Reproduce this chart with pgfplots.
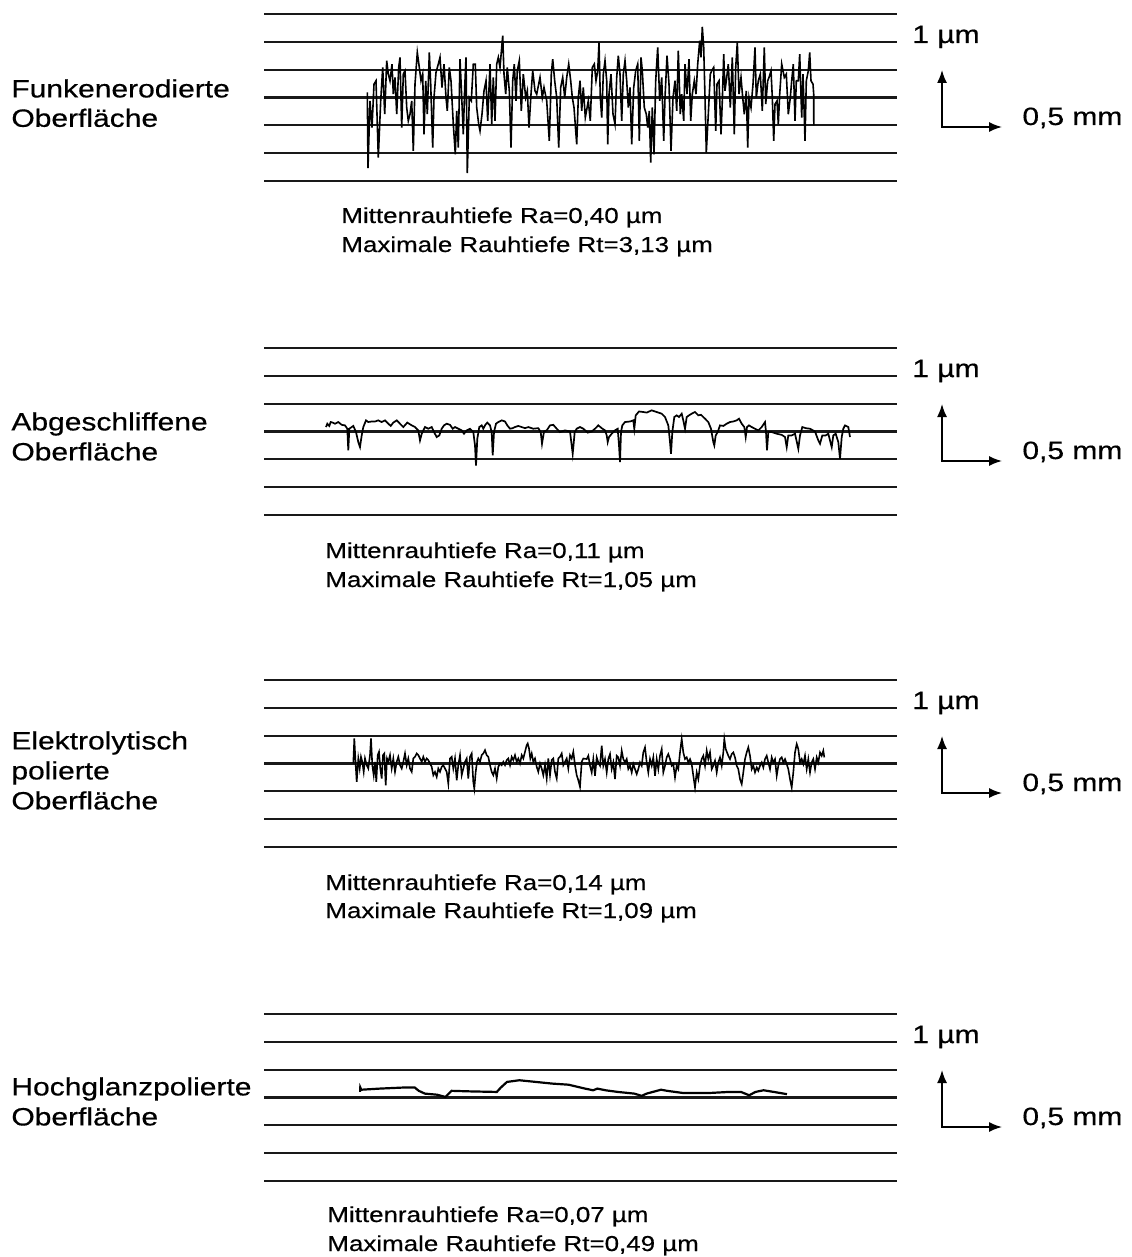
\documentclass[border=0pt]{standalone}
\usepackage{pgfplots}
\pgfplotsset{compat=1.18}
\usepackage{fontspec}
\setmainfont{Liberation Sans}[FakeStretch=1.2, FakeBold=0.5]
\usetikzlibrary{arrows.meta}
\pgfplotsset{profile/.style={
  scale only axis, width=316.5pt, height=83.5pt,
  xmin=0, xmax=633, ymin=-1.5, ymax=1.5,
  axis line style={draw=none},
  xtick=\empty, ytick={-1.5,-1,-0.5,0,0.5,1,1.5}, yticklabels={},
  major tick length=0pt, ymajorgrids,
  grid style={black!90, line width=1.1pt},
  anchor=north west, clip=false}}
\newcommand\lab{\fontsize{12.5}{14}\selectfont}
\newcommand\sml{\fontsize{10.8}{14}\selectfont}
\begin{document}
\begin{tikzpicture}
\path[use as bounding box] (0,0) rectangle (565.5pt,-628.5pt);
% ---------------- Panel 1
\begin{axis}[profile, at={(132pt,-7pt)}]
\addplot[black, line width=0.8pt] table {
x y
103.3 0.09
104.0 -1.27
106.0 -0.06
108.0 -0.54
110.0 0.24
112.0 0.30
114.3 -1.08
116.7 -0.06
118.7 0.54
120.7 -0.30
122.7 0.66
124.3 0.42
126.0 0.30
128.0 0.60
129.3 0.06
131.0 0.36
132.7 -0.30
134.7 0.54
136.0 0.72
137.7 -0.54
139.3 0.42
141.0 0.48
142.7 -0.18
144.3 -0.42
146.0 -0.30
147.7 -0.06
149.3 -0.96
151.0 0.24
153.3 0.81
155.3 0.54
157.0 0.30
158.7 0.42
160.0 -0.66
161.7 0.30
163.3 -0.30
165.3 0.81
166.7 0.24
168.7 -0.90
170.0 0.00
172.0 0.45
174.3 0.60
176.0 0.72
178.0 0.18
180.0 0.60
182.0 0.00
183.3 -0.24
185.3 0.54
187.0 0.30
189.3 -0.48
191.3 -1.02
192.7 -0.24
194.3 -0.90
196.0 0.69
197.3 0.18
199.3 -0.66
200.7 0.18
202.0 0.72
203.3 -1.36
205.3 0.00
207.3 -0.06
209.3 0.60
211.3 0.60
212.7 -0.18
214.7 -0.48
216.0 -0.60
218.0 -0.30
220.0 0.12
222.0 0.30
223.7 -0.42
226.0 0.60
227.7 -0.48
229.3 0.36
231.0 -0.42
232.7 0.60
234.3 0.72
236.0 0.54
238.7 1.11
240.0 0.42
241.7 0.06
243.3 0.54
245.3 0.12
247.0 -0.90
248.7 0.30
250.3 0.60
252.0 -0.06
253.3 0.48
255.3 0.66
257.3 -0.24
259.3 0.42
261.7 0.00
263.3 0.12
265.0 -0.54
267.0 0.06
268.7 0.48
271.0 0.12
272.7 0.06
276.0 0.36
278.3 0.00
280.0 0.18
282.7 -0.06
285.3 -0.78
287.3 0.42
288.7 0.69
290.7 0.30
292.7 0.00
294.7 -0.90
296.7 0.18
298.7 0.36
300.7 0.00
302.7 0.36
304.7 0.60
306.7 0.30
308.3 0.00
310.0 -0.18
312.7 -0.84
314.3 0.00
316.0 0.30
317.7 -0.24
319.3 0.18
321.3 -0.36
324.3 -0.06
326.3 -0.42
328.3 0.54
330.3 0.60
332.0 0.30
333.7 0.48
335.0 0.99
336.3 0.00
337.7 -0.36
339.3 0.42
341.0 0.66
342.7 0.30
343.7 -0.84
345.0 0.06
347.0 0.42
349.0 -0.30
351.0 -0.48
352.7 0.36
354.3 0.75
356.0 0.42
357.7 -0.42
359.3 0.42
361.0 0.66
362.7 0.30
364.3 -0.18
366.0 0.18
367.7 -0.84
369.7 0.18
371.7 0.48
373.7 0.60
375.3 -0.78
377.0 0.72
378.3 0.48
380.3 -0.18
382.3 -0.30
383.7 -0.54
385.3 -0.24
386.7 -1.17
388.3 -0.18
390.0 -1.02
391.7 0.30
393.7 0.90
395.7 -0.06
397.7 0.36
399.7 -0.78
401.0 0.00
403.0 0.75
405.0 0.24
407.0 -0.96
409.0 0.00
411.0 0.30
412.7 -0.24
414.3 0.84
416.3 -0.30
417.7 0.06
419.7 -0.42
421.0 0.60
423.0 0.06
425.0 0.69
426.7 -0.42
428.3 0.06
430.3 0.30
432.0 0.06
433.7 0.60
435.7 1.02
437.0 0.72
438.3 1.27
439.7 0.90
441.0 0.00
442.3 -0.99
444.3 -0.30
446.3 0.42
447.7 0.48
449.7 0.54
451.7 -0.60
453.0 0.24
455.0 0.30
457.0 -0.66
458.3 -0.06
459.7 0.78
461.0 0.12
462.7 0.36
464.3 0.60
466.3 -0.18
468.3 0.72
470.3 -0.66
471.7 0.54
473.3 0.99
475.0 0.06
477.0 0.36
478.7 0.00
480.3 -0.30
482.3 0.12
483.7 -0.90
485.0 0.00
487.0 -0.18
489.0 0.24
491.0 0.90
492.3 0.00
494.3 0.30
496.3 0.42
498.3 -0.24
500.3 0.90
501.7 -0.12
503.7 0.30
505.0 0.36
507.0 0.48
508.3 0.00
509.7 -0.78
511.0 -0.12
513.0 -0.06
514.3 -0.48
515.7 0.06
517.7 0.60
519.0 0.48
520.3 0.36
522.3 0.42
524.3 -0.30
526.3 0.00
527.7 0.30
529.3 0.60
531.0 -0.42
532.3 0.30
534.3 0.30
535.7 0.78
537.7 -0.36
539.0 0.42
541.0 -0.78
542.3 0.30
544.3 0.48
545.7 0.81
547.0 0.30
549.0 0.24
549.7 0.06
549.8 -0.50
};
\end{axis}
% ---------------- Panel 2
\begin{axis}[profile, at={(132pt,-174pt)}]
\addplot[black, line width=0.85pt] table {
x y
62.0 0.08
63.3 0.14
65.3 0.10
66.7 0.17
68.7 0.16
71.0 0.14
74.3 0.17
77.7 0.12
81.0 0.11
83.3 0.05
84.3 -0.34
85.3 0.05
87.7 0.08
89.3 0.10
92.0 -0.01
94.3 -0.19
96.0 -0.28
97.7 -0.07
99.3 0.08
102.0 0.20
104.3 0.17
107.7 0.18
111.0 0.18
114.3 0.20
117.7 0.17
121.0 0.20
124.3 0.14
126.7 0.10
129.3 0.16
132.7 0.20
136.0 0.14
139.3 0.08
143.3 0.16
147.7 0.11
151.0 0.08
154.3 0.02
156.0 -0.16
157.7 -0.04
161.0 0.08
164.3 0.05
167.7 0.08
170.0 -0.01
172.7 -0.10
175.3 -0.07
177.7 0.05
180.0 0.11
182.7 0.14
186.0 0.12
188.7 0.05
191.0 0.08
194.3 0.05
197.7 0.02
200.0 -0.04
202.7 0.02
206.0 0.05
209.3 -0.01
211.0 -0.25
212.0 -0.61
213.3 -0.13
215.3 0.08
217.7 0.11
219.3 0.05
221.3 0.12
223.3 0.16
226.0 0.11
227.7 -0.01
228.7 -0.43
230.0 -0.01
232.0 0.14
234.3 0.17
237.7 0.20
241.0 0.18
243.3 0.11
246.0 0.05
248.7 0.06
251.0 0.08
254.3 0.10
257.7 0.08
261.0 0.06
264.3 0.08
269.3 0.05
274.3 0.06
276.7 -0.01
278.0 -0.22
280.0 0.00
282.7 0.02
286.0 0.11
289.3 0.12
292.7 0.05
296.0 -0.01
301.0 0.02
306.0 0.00
308.7 -0.40
310.7 -0.01
312.7 0.05
316.0 0.08
319.3 0.05
323.7 -0.02
327.7 0.00
331.0 0.05
334.3 0.11
337.7 0.06
341.0 0.02
342.7 -0.07
343.7 -0.19
345.0 -0.10
347.7 -0.04
351.0 0.02
353.7 0.05
355.0 -0.25
356.0 -0.55
357.0 -0.01
358.3 0.11
361.0 0.17
366.0 0.18
369.3 0.20
370.3 0.05
371.7 0.29
375.0 0.36
379.3 0.35
382.7 0.34
387.7 0.38
392.7 0.35
397.7 0.32
401.0 0.26
404.3 0.11
406.0 -0.19
407.0 -0.40
408.3 -0.01
410.3 0.26
412.7 0.29
415.0 0.26
417.7 0.32
419.3 0.20
421.0 0.05
422.7 0.26
425.0 0.29
427.7 0.32
431.0 0.35
434.3 0.29
437.0 0.30
441.0 0.23
444.3 0.17
447.0 0.05
449.3 -0.19
450.3 -0.25
451.7 -0.07
453.7 -0.01
456.0 0.11
459.3 0.10
462.7 0.14
466.0 0.17
469.3 0.18
472.7 0.20
475.0 0.23
477.7 0.14
480.3 0.08
481.7 -0.10
483.0 0.08
485.0 0.11
487.7 0.08
491.0 0.05
494.3 0.02
497.7 0.08
501.0 0.17
502.0 -0.01
503.0 -0.34
504.3 -0.01
507.7 -0.01
512.7 -0.04
517.7 -0.06
521.0 -0.10
522.7 -0.28
524.3 -0.07
527.7 -0.07
531.0 -0.04
534.3 -0.31
536.0 -0.07
538.3 0.08
541.7 0.06
546.0 0.05
551.0 0.00
554.3 -0.16
556.0 -0.22
558.3 -0.07
561.7 -0.07
564.3 -0.04
567.7 -0.28
569.3 -0.07
571.7 -0.04
574.3 -0.19
576.0 -0.49
577.7 -0.10
579.3 0.05
581.0 0.11
584.3 0.08
586.0 -0.10
};
\end{axis}
% ---------------- Panel 3
\begin{axis}[profile, at={(132pt,-340pt)}]
\addplot[black, line width=0.8pt] table {
x y
89.3 0.00
90.3 0.45
91.7 -0.03
92.7 -0.33
94.3 0.09
95.7 -0.09
97.0 0.12
98.3 0.03
99.7 -0.15
101.0 0.09
102.7 -0.03
104.3 -0.09
106.0 0.15
107.0 0.45
108.3 -0.03
109.7 -0.21
111.0 0.03
112.3 -0.33
113.7 0.15
115.0 0.21
116.3 -0.09
117.7 -0.27
119.0 0.15
120.3 0.18
121.7 -0.39
123.0 0.09
124.3 0.03
126.0 0.15
127.7 -0.09
129.3 0.09
131.0 -0.15
132.7 0.03
134.3 0.12
136.0 -0.03
137.7 -0.09
139.3 0.03
141.0 0.18
142.7 -0.03
144.3 0.09
146.0 -0.09
147.7 -0.15
149.3 0.09
151.0 0.12
152.7 0.18
154.3 0.15
156.0 0.09
157.7 0.03
159.3 0.12
161.0 0.03
162.7 0.09
164.3 0.06
166.0 0.00
167.7 -0.06
169.3 -0.21
171.0 -0.15
172.7 -0.24
174.3 -0.09
176.0 -0.15
177.7 -0.06
179.3 -0.03
181.0 -0.09
182.7 -0.15
184.3 -0.36
186.0 0.09
187.7 0.12
189.3 -0.09
191.0 0.09
192.7 -0.30
194.3 -0.03
196.0 0.15
197.7 -0.21
199.3 -0.09
201.0 0.03
202.7 0.09
204.3 -0.27
206.0 0.12
207.7 0.18
209.3 -0.33
210.3 -0.45
211.7 -0.15
213.0 0.03
214.3 0.09
216.0 0.03
217.7 0.15
219.3 0.18
221.0 0.24
222.7 0.15
224.3 0.12
226.0 -0.03
227.7 -0.15
229.3 -0.21
231.0 -0.09
232.7 -0.27
234.3 -0.06
236.0 0.00
237.7 -0.03
239.3 0.03
241.0 -0.03
242.7 0.06
244.3 0.09
246.0 -0.03
247.7 0.12
249.3 0.06
251.0 0.15
252.7 0.03
254.3 0.09
256.0 0.00
257.7 0.15
259.3 0.09
261.0 0.21
262.7 0.33
263.7 0.36
265.0 0.27
266.3 0.09
267.7 0.18
269.3 0.03
271.0 0.09
272.7 -0.06
274.3 -0.15
276.0 0.00
277.7 -0.09
279.3 -0.21
281.0 -0.03
282.7 -0.27
284.3 0.09
286.0 -0.21
287.7 0.06
289.3 0.09
291.0 -0.15
292.7 -0.27
294.3 0.09
296.0 0.12
297.7 0.18
299.3 -0.03
301.0 0.03
302.7 0.09
304.3 -0.09
306.0 0.15
307.7 0.09
309.3 0.21
311.0 -0.03
312.7 -0.21
314.3 -0.30
316.0 -0.42
317.7 0.03
319.3 0.09
322.7 0.08
324.3 0.14
326.0 -0.04
327.7 -0.16
329.3 0.08
331.0 -0.22
332.7 0.11
334.3 0.02
336.0 -0.04
337.7 0.32
339.3 -0.04
341.0 0.08
342.7 -0.16
344.3 0.08
346.0 0.17
347.7 -0.10
349.3 0.02
351.0 -0.28
352.7 0.14
354.3 0.11
356.0 -0.04
357.7 0.23
359.3 0.08
361.0 0.02
362.7 0.08
364.3 -0.10
366.0 -0.04
367.7 -0.16
369.3 -0.01
371.0 -0.10
372.7 -0.19
374.3 -0.10
376.0 0.02
377.7 -0.04
379.3 0.20
381.0 0.29
382.7 0.02
384.3 -0.16
386.0 0.08
387.7 -0.04
389.3 0.11
391.0 -0.22
392.7 0.08
394.3 -0.10
396.0 0.14
397.7 0.26
399.3 -0.16
401.0 -0.04
402.7 0.11
404.3 0.17
406.0 0.08
407.7 -0.04
409.3 -0.01
411.0 -0.25
412.7 -0.04
414.3 -0.10
416.0 0.20
417.7 0.44
419.3 0.20
421.0 0.08
422.7 0.11
424.3 0.02
426.0 0.08
427.7 -0.01
429.3 -0.22
431.0 -0.43
432.7 -0.16
434.3 -0.28
436.0 -0.04
437.7 0.08
439.3 0.14
441.0 -0.04
442.7 0.23
444.3 0.08
446.0 0.20
447.7 -0.10
449.3 -0.04
451.0 0.05
452.7 -0.16
454.3 0.02
456.0 0.11
457.7 -0.04
459.3 0.20
460.3 0.44
461.7 0.26
463.0 0.20
464.3 0.14
466.0 0.08
467.7 0.17
469.3 0.20
471.0 0.11
472.7 -0.04
474.3 -0.10
476.0 -0.28
477.7 -0.37
479.3 -0.16
481.0 0.08
482.7 0.20
484.3 0.29
486.0 0.14
487.7 -0.10
489.3 -0.04
491.0 -0.16
492.7 -0.07
494.3 -0.13
496.0 -0.04
497.7 0.02
499.3 -0.07
501.0 0.08
502.7 0.14
504.3 0.02
506.0 -0.10
507.7 0.11
509.3 0.02
511.0 0.08
512.7 -0.22
514.3 -0.04
516.0 0.08
517.7 0.11
519.3 0.02
521.0 0.08
522.7 -0.01
524.3 -0.10
526.0 -0.28
527.7 -0.43
529.3 -0.16
531.0 0.20
532.7 0.35
534.3 0.26
536.0 0.02
537.7 0.08
539.3 -0.01
541.0 0.14
542.7 -0.10
544.3 0.08
546.0 -0.16
547.7 0.02
549.3 0.08
551.0 -0.10
552.7 0.11
554.3 0.02
556.0 0.20
557.7 0.14
559.3 0.23
560.3 0.11
};
\end{axis}
% ---------------- Panel 4
\begin{axis}[profile, at={(132pt,-507pt)}]
\addplot[black, line width=1.1pt] table {
x y
96.1 0.10
96.3 0.18
97.3 0.14
115.8 0.16
140.4 0.18
150.7 0.18
154.8 0.12
160.9 0.07
173.2 0.05
181.4 0.01
184.7 0.07
187.6 0.12
206.1 0.11
232.8 0.10
236.9 0.18
243.0 0.28
255.3 0.31
271.8 0.28
288.2 0.25
304.6 0.23
321.0 0.16
329.2 0.13
333.3 0.16
341.5 0.13
353.9 0.10
370.3 0.07
377.7 0.03
382.6 0.07
397.0 0.14
403.1 0.12
419.5 0.08
444.2 0.08
464.7 0.10
477.0 0.10
485.2 0.04
491.4 0.10
499.6 0.13
509.9 0.10
523.0 0.06
};
\end{axis}
% ---------------- texts and scale arrows
\foreach \o in {0,-167,-333,-500}{
  \node[anchor=base west, inner sep=0pt, font=\lab] at (456pt,\o pt-21.5pt) {1 µm};
  \node[anchor=base west, inner sep=0pt, font=\lab] at (511pt,\o pt-62.5pt) {0,5 mm};
  \draw[line width=0.8pt, {Latex[length=6.5pt,width=5pt]}-{Latex[length=6.5pt,width=5pt]}]
    (471pt,\o pt-35pt) -- (471pt,\o pt-63.5pt) -- (501pt,\o pt-63.5pt);
}
\node[anchor=base west, inner sep=0pt, font=\lab] at (5.5pt,-48.7pt) {Funkenerodierte};
\node[anchor=base west, inner sep=0pt, font=\lab] at (5.5pt,-63.4pt) {Oberfläche};
\node[anchor=base west, inner sep=0pt, font=\lab] at (5.5pt,-215.2pt) {Abgeschliffene};
\node[anchor=base west, inner sep=0pt, font=\lab] at (5.5pt,-230.2pt) {Oberfläche};
\node[anchor=base west, inner sep=0pt, font=\lab] at (5.5pt,-374.7pt) {Elektrolytisch};
\node[anchor=base west, inner sep=0pt, font=\lab] at (5.5pt,-389.7pt) {polierte};
\node[anchor=base west, inner sep=0pt, font=\lab] at (5.5pt,-404.7pt) {Oberfläche};
\node[anchor=base west, inner sep=0pt, font=\lab] at (5.5pt,-547.7pt) {Hochglanzpolierte};
\node[anchor=base west, inner sep=0pt, font=\lab] at (5.5pt,-562.7pt) {Oberfläche};
\node[anchor=base west, inner sep=0pt, font=\sml] at (170.5pt,-111.5pt) {Mittenrauhtiefe Ra=0,40 µm};
\node[anchor=base west, inner sep=0pt, font=\sml] at (170.5pt,-126pt) {Maximale Rauhtiefe Rt=3,13 µm};
\node[anchor=base west, inner sep=0pt, font=\sml] at (162.5pt,-279pt) {Mittenrauhtiefe Ra=0,11 µm};
\node[anchor=base west, inner sep=0pt, font=\sml] at (162.5pt,-293.5pt) {Maximale Rauhtiefe Rt=1,05 µm};
\node[anchor=base west, inner sep=0pt, font=\sml] at (162.5pt,-445pt) {Mittenrauhtiefe Ra=0,14 µm};
\node[anchor=base west, inner sep=0pt, font=\sml] at (162.5pt,-459pt) {Maximale Rauhtiefe Rt=1,09 µm};
\node[anchor=base west, inner sep=0pt, font=\sml] at (163.5pt,-611pt) {Mittenrauhtiefe Ra=0,07 µm};
\node[anchor=base west, inner sep=0pt, font=\sml] at (163.5pt,-625.5pt) {Maximale Rauhtiefe Rt=0,49 µm};
\end{tikzpicture}
\end{document}
